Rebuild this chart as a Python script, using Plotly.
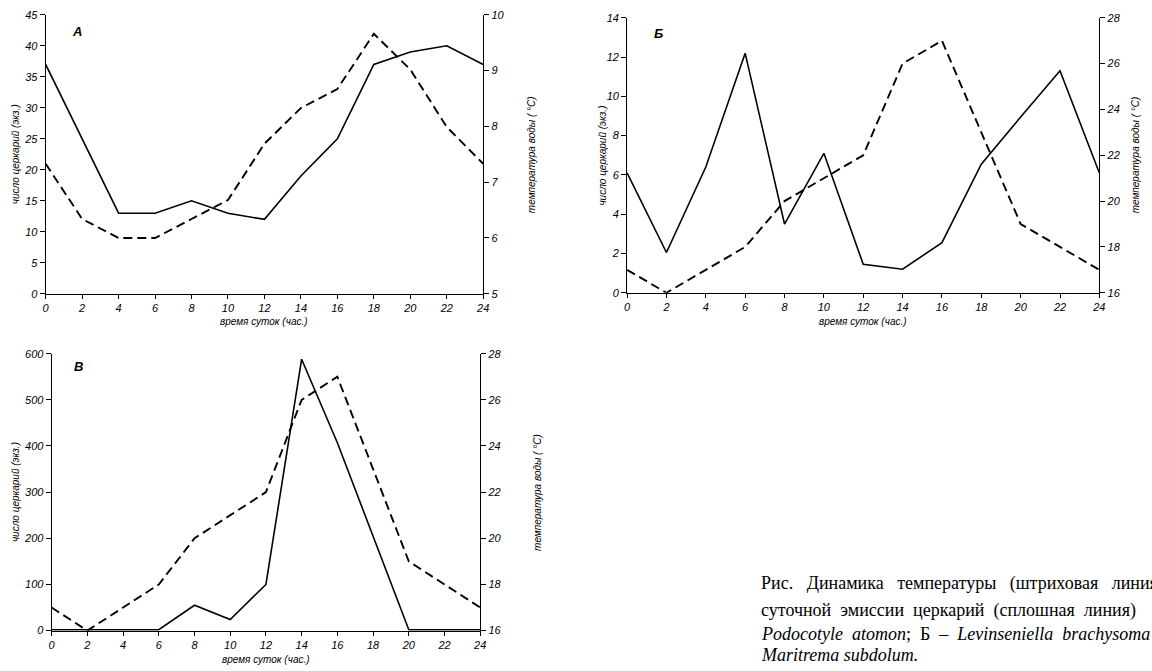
import plotly.graph_objects as go

W, H = 1152, 671

hours = [0, 2, 4, 6, 8, 10, 12, 14, 16, 18, 20, 22, 24]
x_ticks = [0, 2, 4, 6, 8, 10, 12, 14, 16, 18, 20, 22, 24]

# Panel A (Podocotyle atomon)
a_cercariae = [37, 25, 13, 13, 15, 13, 12, 19, 25, 37, 39, 40, 37]
a_temp = [7.33, 6.34, 6.0, 6.0, 6.34, 6.68, 7.69, 8.33, 8.67, 9.66, 9.02, 7.99, 7.33]
a_left_ticks = [0, 5, 10, 15, 20, 25, 30, 35, 40, 45]
a_right_ticks = [5, 6, 7, 8, 9, 10]

# Panel Б (Levinseniella brachysoma)
b_cercariae = [6.1, 2.05, 6.4, 12.2, 3.5, 7.1, 1.45, 1.2, 2.55, 6.55, 8.95, 11.3, 6.1]
b_temp = [17, 16, 17, 18, 20, 21, 22, 26, 27, 23, 19, 18, 17]
b_left_ticks = [0, 2, 4, 6, 8, 10, 12, 14]
b_right_ticks = [16, 18, 20, 22, 24, 26, 28]

# Panel В (Maritrema subdolum)
c_cercariae = [2, 2, 2, 2, 55, 24, 100, 588, 407, 205, 2, 2, 2]
c_temp = [17, 16, 17, 18, 20, 21, 22, 26, 27, 23, 19, 18, 17]
c_left_ticks = [0, 100, 200, 300, 400, 500, 600]
c_right_ticks = [16, 18, 20, 22, 24, 26, 28]

y_title_left = "число церкарий (экз.)"
y_title_right = "температура воды ( °C)"
x_title = "время суток (час.)"


def px(x):
    return x / W


def py(y):
    return 1 - y / H


SANS = "Liberation Sans, Arial, sans-serif"
SERIF = "Liberation Serif, Times New Roman, serif"
tickfont = dict(family=SANS, size=11, color="black", style="italic")

fig = go.Figure()

solid = dict(color="black", width=1.6)
dashed = dict(color="black", width=1.9, dash="9px,5px")

fig.add_trace(go.Scatter(x=hours, y=a_cercariae, mode="lines", line=solid, xaxis="x", yaxis="y", showlegend=False))
fig.add_trace(go.Scatter(x=hours, y=a_temp, mode="lines", line=dashed, xaxis="x", yaxis="y2", showlegend=False))
fig.add_trace(go.Scatter(x=hours, y=b_cercariae, mode="lines", line=solid, xaxis="x2", yaxis="y3", showlegend=False))
fig.add_trace(go.Scatter(x=hours, y=b_temp, mode="lines", line=dashed, xaxis="x2", yaxis="y4", showlegend=False))
fig.add_trace(go.Scatter(x=hours, y=c_cercariae, mode="lines", line=solid, xaxis="x3", yaxis="y5", showlegend=False))
fig.add_trace(go.Scatter(x=hours, y=c_temp, mode="lines", line=dashed, xaxis="x3", yaxis="y6", showlegend=False))


def xax(domain, anchor):
    return dict(domain=domain, anchor=anchor, range=[0, 24], tickvals=x_ticks,
                showline=True, linecolor="black", linewidth=1, ticks="outside",
                ticklen=4, tickcolor="black", showgrid=False, zeroline=False,
                tickfont=tickfont, fixedrange=True)


def yax(domain, anchor, rng, tv, side="left", overlaying=None):
    d = dict(domain=domain, anchor=anchor, range=rng, tickvals=tv, side=side,
             showline=True, linecolor="black", linewidth=1, ticks="outside",
             ticklen=5, tickcolor="black", showgrid=False, zeroline=False,
             tickfont=tickfont, fixedrange=True)
    if overlaying:
        d["overlaying"] = overlaying
    return d


a_x = [px(43), px(484)]
a_y = [py(293), py(9)]
b_x = [px(629), px(1105)]
b_y = [py(292), py(12)]
c_x = [px(49), px(481)]
c_y = [py(636), py(354)]

fig.update_layout(
    width=W, height=H,
    margin=dict(l=0, r=0, t=0, b=0),
    paper_bgcolor="white", plot_bgcolor="rgba(0,0,0,0)",
    xaxis=xax(a_x, "y"),
    yaxis=yax(a_y, "x", [0, 45], a_left_ticks),
    yaxis2=yax(a_y, "x", [5, 10], a_right_ticks, side="right", overlaying="y"),
    xaxis2=xax(b_x, "y3"),
    yaxis3=yax(b_y, "x2", [0, 14], b_left_ticks),
    yaxis4=yax(b_y, "x2", [16, 28], b_right_ticks, side="right", overlaying="y3"),
    xaxis3=xax(c_x, "y5"),
    yaxis5=yax(c_y, "x3", [0, 600], c_left_ticks),
    yaxis6=yax(c_y, "x3", [16, 28], c_right_ticks, side="right", overlaying="y5"),
)

title_font = dict(family=SANS, size=10, color="black", style="italic")
letter_font = dict(family=SANS, size=13, color="black", style="italic", weight="bold")

ann = []


def add_text(text, x, y, font, angle=0, xanchor="center"):
    ann.append(dict(text=text, x=px(x), y=py(y), xref="paper", yref="paper",
                    showarrow=False, font=font, textangle=angle,
                    xanchor=xanchor, yanchor="middle"))


# axis titles
add_text(y_title_left, 12, 151, title_font, -90)
add_text(y_title_right, 532, 151, title_font, -90)
add_text(x_title, 263, 321, title_font)
add_text(y_title_left, 604, 152, title_font, -90)
add_text(y_title_right, 1141, 152, title_font, -90)
add_text(x_title, 867, 321, title_font)
add_text(y_title_left, 12, 495, title_font, -90)
add_text(y_title_right, 538, 495, title_font, -90)
add_text(x_title, 265, 665, title_font)

# panel letters
add_text("А", 75, 26, letter_font)
add_text("Б", 661, 28, letter_font)
add_text("В", 76, 367, letter_font)

# caption (justified text, widened word gaps); runs off the right edge as in the reference
nb = "\u00a0"
cap_font = dict(family=SERIF, size=18, color="black")
caption_lines = [
    (" " + nb * 2).join(["Рис.", "Динамика", "температуры", "(штриховая", "линия)"]),
    (" " + nb).join(["суточной", "эмиссии", "церкарий", "(сплошная", "линия)"]),
    (" " + nb).join(["<i>Podocotyle</i>", "<i>atomon</i>;", "Б", "–", "<i>Levinseniella</i>", "<i>brachysoma</i>"]),
    "<i>Maritrema subdolum.</i>",
]
cap_y = [588, 616, 639, 661]
for t, yy in zip(caption_lines, cap_y):
    add_text(t, 762, yy, cap_font, xanchor="left")

fig.update_layout(annotations=ann)

fig.write_html("out.html")
